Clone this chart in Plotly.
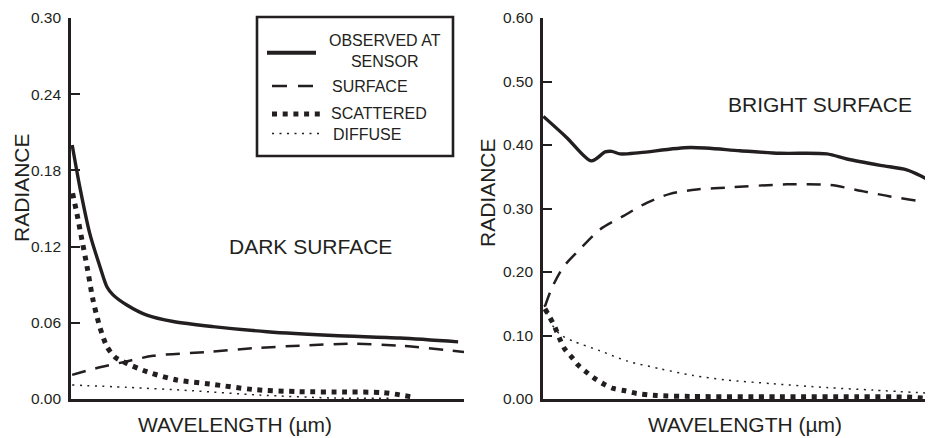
import plotly.graph_objects as go

# ---------------- data (relative wavelength 0-100, radiance) ----------------
dark_obs_x = [0.3, 2.3, 4.8, 7.4, 9.2, 10.7, 14.2, 19.3, 26.0, 36.1, 49.9, 66.7, 83.7, 98.5]
dark_obs_y = [0.200, 0.166, 0.130, 0.104, 0.088, 0.082, 0.074, 0.066, 0.061, 0.057, 0.053, 0.050, 0.048, 0.045]

dark_surf_x = [0.3, 6.1, 13.3, 20.9, 34.5, 46.4, 58.3, 71.0, 83.7, 100]
dark_surf_y = [0.019, 0.024, 0.029, 0.034, 0.037, 0.040, 0.042, 0.0435, 0.042, 0.037]

dark_scat_x = [0.4, 1.5, 2.8, 4.1, 5.6, 7.4, 9.2, 11.2, 14.2, 19.3, 26.9, 35.4, 46.3, 58, 70, 79.4, 86.8]
dark_scat_y = [0.162, 0.146, 0.125, 0.104, 0.078, 0.056, 0.041, 0.033, 0.028, 0.0215, 0.015, 0.0118,
               0.0075, 0.0058, 0.0055, 0.005, 0.0016]

dark_diff_x = [0.3, 14.2, 31, 48, 66.7, 82]
dark_diff_y = [0.011, 0.0092, 0.0065, 0.0031, 0.0008, 0.0005]

bright_obs_x = [0.1, 6.0, 12.3, 15.8, 17.5, 19.6, 24.7, 37.4, 50.1, 60.3, 72.2, 77.3, 85.8, 92.5, 95.9, 98.7, 100]
bright_obs_y = [0.445, 0.412, 0.375, 0.389, 0.390, 0.386, 0.388, 0.396, 0.391, 0.387, 0.386, 0.378,
                0.368, 0.361, 0.352, 0.342, 0.336]

bright_surf_x = [0.5, 2.2, 5.2, 9.4, 14.5, 20.4, 26.4, 32.3, 39.1, 46.7, 62, 73, 81.5, 88.3, 98.5, 100]
bright_surf_y = [0.146, 0.174, 0.208, 0.236, 0.267, 0.288, 0.309, 0.323, 0.330, 0.333, 0.338, 0.337,
                 0.327, 0.319, 0.309, 0.307]

bright_scat_x = [0.5, 1.8, 3.1, 4.3, 5.6, 7.3, 9.0, 11.1, 13.2, 15.3, 17.9, 20.9, 23.8, 28.9, 37.4, 60, 80, 92.5, 99]
bright_scat_y = [0.142, 0.128, 0.112, 0.094, 0.078, 0.066, 0.053, 0.042, 0.032, 0.024, 0.0166, 0.0129,
                 0.0088, 0.0055, 0.004, 0.0035, 0.0035, 0.003, 0.0005]

bright_diff_x = [0.3, 2.0, 4.3, 7.7, 14.5, 21.3, 29.8, 38.2, 46.7, 58.5, 72.2, 84, 99.2]
bright_diff_y = [0.148, 0.120, 0.102, 0.091, 0.076, 0.060, 0.0476, 0.037, 0.030, 0.024, 0.018, 0.014, 0.0088]

dark_ticks = [0.00, 0.06, 0.12, 0.18, 0.24, 0.30]
bright_ticks = [0.00, 0.10, 0.20, 0.30, 0.40, 0.50, 0.60]

series_names = ["OBSERVED AT SENSOR", "SURFACE", "SCATTERED", "DIFFUSE"]

# ---------------- styling ----------------
W, H = 933, 438
OFF = 8  # page body margin in the browser
INK = "#231f20"
FONT = "Liberation Sans, Arial, Helvetica, sans-serif"

styles = [
    dict(color=INK, width=3.4, dash="solid"),
    dict(color=INK, width=2.5, dash="14px,10px"),
    dict(color=INK, width=5, dash="5px,5.6px"),
    dict(color=INK, width=1.5, dash="2px,5.5px"),
]


def px_x(p):
    return (p - OFF) / W


def px_y(p):
    return 1 - (p - OFF) / H


fig = go.Figure()

dark = [(dark_obs_x, dark_obs_y), (dark_surf_x, dark_surf_y), (dark_scat_x, dark_scat_y), (dark_diff_x, dark_diff_y)]
bright = [(bright_obs_x, bright_obs_y), (bright_surf_x, bright_surf_y),
          (bright_scat_x, bright_scat_y), (bright_diff_x, bright_diff_y)]

for (xs, ys), st, nm in zip(dark, styles, series_names):
    fig.add_trace(go.Scatter(x=xs, y=ys, mode="lines", name=nm, line=dict(shape="spline", smoothing=0.8, **st),
                             xaxis="x", yaxis="y", showlegend=False, hoverinfo="skip"))
for (xs, ys), st, nm in zip(bright, styles, series_names):
    fig.add_trace(go.Scatter(x=xs, y=ys, mode="lines", name=nm, line=dict(shape="spline", smoothing=0.8, **st),
                             xaxis="x2", yaxis="y2", showlegend=False, hoverinfo="skip"))

common_x = dict(showline=True, linecolor=INK, linewidth=2.6, ticks="", showticklabels=False,
                showgrid=False, zeroline=False, fixedrange=True)
common_y = dict(showline=True, linecolor=INK, linewidth=2.6, ticks="inside", ticklen=9, tickwidth=2,
                tickcolor=INK, tickformat=".2f", showgrid=False, zeroline=False,
                tickfont=dict(family=FONT, size=15.5, color=INK), ticklabelstandoff=4,
                ticklabeloverflow="allow", fixedrange=True)

fig.update_layout(
    width=W, height=H,
    margin=dict(l=0, r=0, t=0, b=0, autoexpand=False),
    paper_bgcolor="white", plot_bgcolor="white",
    showlegend=False,
    xaxis=dict(domain=[px_x(71), px_x(464)], range=[0, 100], anchor="y", **common_x),
    yaxis=dict(domain=[px_y(399), px_y(18)], range=[0, 0.30], tickvals=dark_ticks, anchor="x", **common_y),
    xaxis2=dict(domain=[px_x(543), px_x(933)], range=[0, 99.2], anchor="y2", **common_x),
    yaxis2=dict(domain=[px_y(399), px_y(18)], range=[0, 0.60], tickvals=bright_ticks, anchor="x2", **common_y),
)


# ---------------- text ----------------
def label(text, x, y, size=21, xanchor="center", yanchor="middle", angle=0, align="center"):
    fig.add_annotation(text=text, x=px_x(x), y=px_y(y), xref="paper", yref="paper", showarrow=False,
                       xanchor=xanchor, yanchor=yanchor, textangle=angle, align=align,
                       font=dict(family=FONT, size=size, color=INK))


label("DARK SURFACE", 310, 246)
label("BRIGHT SURFACE", 820, 105)
label("RADIANCE", 21, 188, angle=-90)
label("RADIANCE", 487, 193, angle=-90)
label("WAVELENGTH (µm)", 235, 424)
label("WAVELENGTH (µm)", 745, 424)

# ---------------- legend box (drawn) ----------------
fig.add_shape(type="rect", xref="paper", yref="paper", x0=px_x(257), x1=px_x(453), y0=px_y(156), y1=px_y(17),
              line=dict(color=INK, width=2.6), fillcolor="white", layer="above")
legend_rows = [
    (52.7, 267, 316, dict(color=INK, width=4, dash="solid")),
    (86, 272, 313, dict(color=INK, width=2.5, dash="15px,11px")),
    (114, 272, 320, dict(color=INK, width=5, dash="5px,5.7px")),
    (133.5, 272, 322, dict(color=INK, width=1.5, dash="2px,5.5px")),
]
for y, xa, xb, ln in legend_rows:
    fig.add_shape(type="line", xref="paper", yref="paper", x0=px_x(xa), x1=px_x(xb), y0=px_y(y), y1=px_y(y),
                  line=ln, layer="above")

label("OBSERVED AT<br>SENSOR", 385, 51, size=16)
label("SURFACE", 330, 86, size=16, xanchor="left")
label("SCATTERED", 329, 114, size=16, xanchor="left")
label("DIFFUSE", 331, 134.5, size=16, xanchor="left")

fig.write_html("out.html")
